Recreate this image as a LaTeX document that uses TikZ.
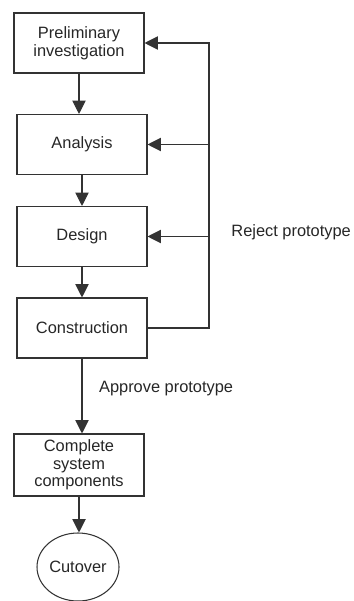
\documentclass[tikz,border=0pt]{standalone}
\usepackage{fontspec}
\setmainfont{Liberation Sans}
\usetikzlibrary{arrows.meta,shapes.geometric}

\begin{document}
\begin{tikzpicture}[x=0.03cm,y=-0.03cm,font=\fontsize{14}{15}\selectfont,
  stepbox/.style={draw=black!80,line width=0.9pt,text=black!85,minimum width=3.9cm,minimum height=1.8cm,align=center,inner sep=2pt},
  flow/.style={draw=black!80,line width=0.9pt,-{Triangle[length=0.4cm,width=0.4cm]}}]
\useasboundingbox (0,0) rectangle (353,601);
\node[stepbox] (prelim) at (79,43) {Preliminary\\investigation};
\node[stepbox] (analysis) at (82,144.5) {Analysis};
\node[stepbox] (design) at (82,236.5) {Design};
\node[stepbox] (constr) at (82,328) {Construction};
\node[stepbox,minimum height=1.86cm] (complete) at (79,465) {Complete\\system\\components};
\node[ellipse,draw=black!80,line width=0.9pt,text=black!85,minimum width=2.46cm,minimum height=2.04cm,inner sep=0pt] (cutover) at (78,567) {Cutover};
\coordinate (loop) at (209,43);
\draw[flow] (prelim.south) -- (prelim.south |- analysis.north);
\draw[flow] (analysis) -- (design);
\draw[flow] (design) -- (constr);
\draw[flow] (constr.south) -- (constr.south |- complete.north)
  node[pos=0.4,anchor=west,text=black!85,xshift=0.38cm] (approve) {Approve prototype};
\draw[flow] (complete.south) -- (complete.south |- cutover.north);
\draw[flow] (constr.east) -| (loop) -- (prelim.east);
\draw[flow] (loop |- analysis) -- (analysis.east);
\draw[flow] (loop |- design) -- (design.east);
\node[anchor=west,text=black!85,inner sep=1pt] (reject) at (230,232) {Reject prototype};
\end{tikzpicture}
\end{document}
